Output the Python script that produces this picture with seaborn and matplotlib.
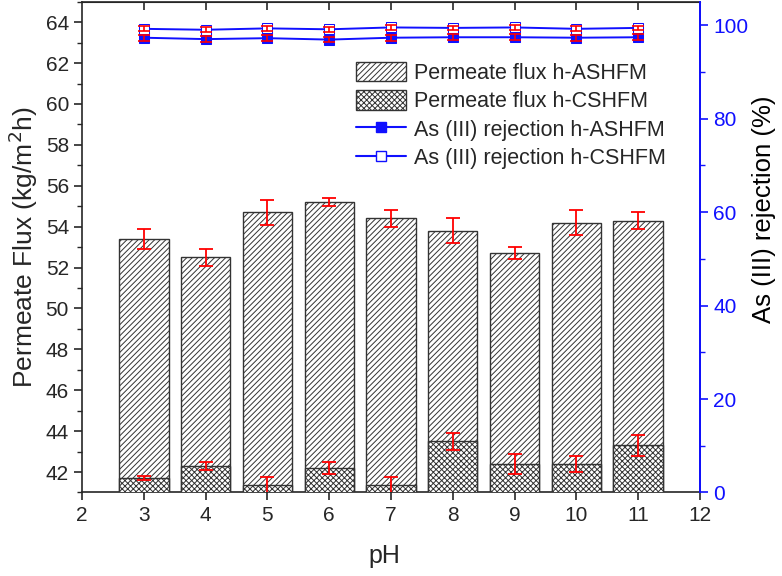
import numpy as np
import pandas as pd
import matplotlib
matplotlib.use("Agg")
import matplotlib.pyplot as plt
import seaborn as sns
from matplotlib.lines import Line2D
from matplotlib.patches import Patch
from matplotlib.ticker import MultipleLocator

# ---- data ----
ph = [3, 4, 5, 6, 7, 8, 9, 10, 11]
flux_ashfm = [53.4, 52.5, 54.7, 55.2, 54.4, 53.8, 52.7, 54.2, 54.3]
flux_ashfm_err = [0.5, 0.4, 0.6, 0.2, 0.4, 0.6, 0.3, 0.6, 0.4]
flux_cshfm = [41.7, 42.3, 41.35, 42.2, 41.35, 43.5, 42.4, 42.4, 43.3]
flux_cshfm_err = [0.1, 0.2, 0.4, 0.3, 0.4, 0.4, 0.5, 0.4, 0.5]
rej_ashfm = [97.3, 97.0, 97.2, 96.9, 97.3, 97.4, 97.4, 97.3, 97.4]
rej_ashfm_err = [0.6, 0.6, 0.6, 0.6, 0.6, 0.6, 0.6, 0.6, 0.6]
rej_cshfm = [99.2, 99.0, 99.3, 99.1, 99.5, 99.4, 99.5, 99.2, 99.4]
rej_cshfm_err = [0.5, 0.5, 0.5, 0.5, 0.5, 0.5, 0.5, 0.5, 0.5]

sns.set_style("ticks")
plt.rcParams['font.family'] = ['Liberation Sans', 'DejaVu Sans']
plt.rcParams['hatch.linewidth'] = 0.7
plt.rcParams['hatch.color'] = '#333333'

df = pd.DataFrame({"pH": ph, "a": flux_ashfm, "c": flux_cshfm})

fig = plt.figure(figsize=(7.82, 5.76), dpi=100)
ax = fig.add_axes([0.105, 0.145, 0.79, 0.852])

# bars: ASHFM full height, CSHFM overlaid in front
sns.barplot(data=df, x="pH", y="a", native_scale=True, width=0.8, color="white",
            edgecolor="#333333", linewidth=1.0, ax=ax, zorder=2)
n_a = len(ax.patches)
for p in ax.patches:
    p.set_hatch('//////')
sns.barplot(data=df, x="pH", y="c", native_scale=True, width=0.8, color="white",
            edgecolor="#333333", linewidth=1.0, ax=ax, zorder=3)
for p in ax.patches[n_a:]:
    p.set_hatch('xxxxxx')

ax.errorbar(ph, flux_ashfm, yerr=flux_ashfm_err, fmt='none', ecolor='red',
            elinewidth=1.3, capsize=5, capthick=1.3, zorder=5)
ax.errorbar(ph, flux_cshfm, yerr=flux_cshfm_err, fmt='none', ecolor='red',
            elinewidth=1.3, capsize=5, capthick=1.3, zorder=5)

ax.set_xlim(2, 12)
ax.set_ylim(41, 65)
ax.set_xticks(range(2, 13))
ax.set_xticklabels([str(v) for v in range(2, 13)])
ax.yaxis.set_major_locator(MultipleLocator(2))
ax.yaxis.set_minor_locator(MultipleLocator(1))
ax.set_yticks(range(42, 65, 2))
ax.set_xlabel("pH", fontsize=18)
ax.xaxis.set_label_coords(0.489, -0.105)
ax.set_ylabel("Permeate Flux (kg/m$^2$h)", fontsize=19, labelpad=4)
ax.tick_params(axis='both', labelsize=15, width=1.2, length=6)
ax.tick_params(axis='y', which='minor', length=3.5, width=1.0)
for s in ax.spines.values():
    s.set_linewidth(1.2)

# top ticks pointing in
top = ax.secondary_xaxis('top')
top.set_xticks(range(3, 12))
top.tick_params(direction='in', length=6, width=1.2, labeltop=False)

# rejection on right axis
ax2 = ax.twinx()
blue = '#1010ff'
sns.lineplot(x=ph, y=rej_ashfm, ax=ax2, color=blue, marker='s', markersize=7,
             markerfacecolor=blue, markeredgecolor=blue, linewidth=1.4, zorder=4)
sns.lineplot(x=ph, y=rej_cshfm, ax=ax2, color=blue, marker='s', markersize=7,
             markerfacecolor='white', markeredgecolor=blue, linewidth=1.4, zorder=4)
ax2.errorbar(ph, rej_ashfm, yerr=rej_ashfm_err, fmt='none', ecolor='red',
             elinewidth=1.2, capsize=4, capthick=1.2, zorder=6)
ax2.errorbar(ph, rej_cshfm, yerr=rej_cshfm_err, fmt='none', ecolor='red',
             elinewidth=1.2, capsize=4, capthick=1.2, zorder=6)
ax2.set_ylim(0, 105)
ax2.yaxis.set_major_locator(MultipleLocator(20))
ax2.yaxis.set_minor_locator(MultipleLocator(10))
ax2.set_ylabel("As (III) rejection (%)", fontsize=18.5, rotation=90, va='center')
ax2.yaxis.set_label_coords(1.104, 0.578)
ax2.tick_params(axis='y', colors=blue, labelsize=15, width=1.2, length=6)
ax2.tick_params(axis='y', which='minor', colors=blue, length=3.5, width=1.0)
ax2.spines['right'].set_color(blue)
ax2.spines['right'].set_linewidth(1.4)
ax2.yaxis.label.set_color('black')
for sp in ['left', 'top', 'bottom']:
    ax2.spines[sp].set_visible(False)

handles = [
    Patch(facecolor='white', edgecolor='#333333', hatch='//////', label='Permeate flux h-ASHFM'),
    Patch(facecolor='white', edgecolor='#333333', hatch='xxxxxx', label='Permeate flux h-CSHFM'),
    Line2D([], [], color=blue, marker='s', markersize=7, markerfacecolor=blue,
           label='As (III) rejection h-ASHFM'),
    Line2D([], [], color=blue, marker='s', markersize=7, markerfacecolor='white',
           label='As (III) rejection h-CSHFM'),
]
ax2.legend(handles=handles, loc='upper left', bbox_to_anchor=(0.43, 0.895),
           frameon=False, fontsize=15.5, handlelength=2.3, handleheight=1.0,
           labelspacing=0.3, borderaxespad=0, handletextpad=0.4)

fig.savefig("out.png", dpi=100)
